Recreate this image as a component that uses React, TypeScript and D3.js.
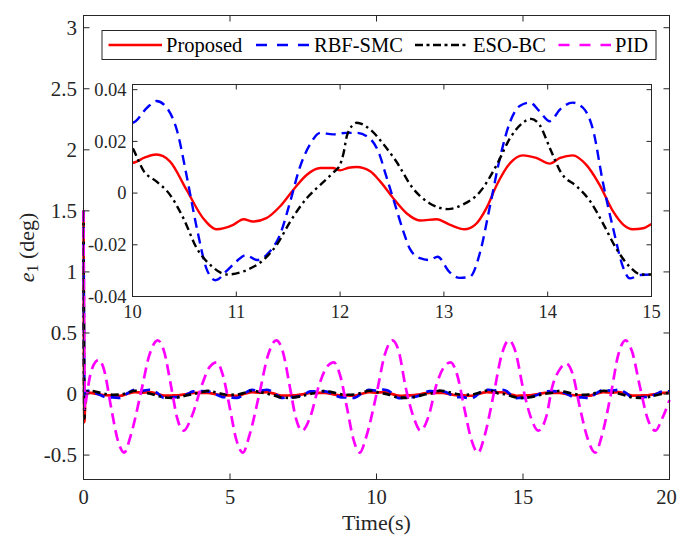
import React from 'react';
import * as d3 from 'd3';

const seriesNames = ['Proposed', 'RBF-SMC', 'ESO-BC', 'PID'];
const seriesColors = ['#ff0000', '#0000ff', '#000000', '#ff00ff'];

const xTicksMain = [0, 5, 10, 15, 20];
const yTicksMain = [-0.5, 0, 0.5, 1, 1.5, 2, 2.5, 3];
const yTickLabelsMain = ['-0.5', '0', '0.5', '1', '1.5', '2', '2.5', '3'];
const xTicksInset = [10, 11, 12, 13, 14, 15];
const yTicksInset = [-0.04, -0.02, 0, 0.02, 0.04];
const yTickLabelsInset = ['-0.04', '-0.02', '0', '0.02', '0.04'];

// sample times for coarse parts of the main plot
const tHead = d3.range(0.25, 10, 0.25); // 0.25 .. 9.75
const tTail = d3.range(15.25, 20.001, 0.25); // 15.25 .. 20

// ---------- Proposed (red) ----------
const redStart: [number, number][] = [[0, 1.5], [0.015, 0.3], [0.03, -0.23], [0.06, -0.04], [0.12, 0.01], [0.18, 0.011]];
const redHead = [0.009, -0.001, -0.010, -0.011, -0.014, 0.002, 0.0145, 0.012, 0.015, 0.003, -0.013, -0.012, -0.010, -0.002, 0.009,
  0.009,
  0.009, -0.001, -0.010, -0.011, -0.014, 0.002, 0.0145, 0.012, 0.015, 0.003, -0.013, -0.012, -0.010, -0.002, 0.009,
  0.009,
  0.009, -0.001, -0.010, -0.011, -0.014, 0.002, 0.0145];
const redZoom: [number, number][] = [[10.0, 0.0117], [10.12, 0.0138], [10.23, 0.0149], [10.36, 0.0123], [10.52, 0.0013], [10.68, -0.0097], [10.81, -0.014], [10.97, -0.0123], [11.07, -0.0101], [11.16, -0.011], [11.29, -0.0097], [11.42, -0.0052], [11.55, 0.0013], [11.68, 0.0071], [11.81, 0.0097], [11.93, 0.0097], [12.0, 0.0088], [12.08, 0.0098], [12.16, 0.0101], [12.29, 0.0084], [12.38, 0.0048], [12.51, -0.0019], [12.64, -0.0078], [12.77, -0.0106], [12.93, -0.0101], [13.06, -0.0123], [13.2, -0.014], [13.3, -0.0123], [13.41, -0.0058], [13.51, 0.0032], [13.64, 0.0117], [13.76, 0.0146], [13.89, 0.0136], [14.02, 0.0114], [14.12, 0.0136], [14.24, 0.0146], [14.37, 0.011], [14.5, 0.0032], [14.63, -0.0071], [14.73, -0.0123], [14.82, -0.014], [14.92, -0.0136], [15.0, -0.012]];
const redTail = [-0.010, -0.002, 0.009, 0.009, 0.009, -0.001, -0.010, -0.011, -0.014, 0.002, 0.0145, 0.012, 0.015, 0.003, -0.013, -0.012, -0.010, -0.002, 0.009, 0.009];

// ---------- RBF-SMC (blue) ----------
const blueStart: [number, number][] = [[0, 1.5], [0.015, 0.5], [0.03, -0.05], [0.07, 0.02], [0.15, 0.025]];
const blueHead = [0.021, 0.000, -0.025, -0.028, -0.032, 0.006, 0.034, 0.027, 0.035, 0.011, -0.032, -0.027, -0.024, -0.006, 0.021,
  0.023,
  0.021, 0.000, -0.025, -0.028, -0.032, 0.006, 0.034, 0.027, 0.035, 0.011, -0.032, -0.027, -0.024, -0.006, 0.021,
  0.023,
  0.021, 0.000, -0.025, -0.028, -0.032, 0.006, 0.034];
const blueZoom: [number, number][] = [[10.0, 0.0272], [10.14, 0.033], [10.23, 0.0356], [10.33, 0.033], [10.43, 0.024], [10.52, 0.007], [10.62, -0.0136], [10.72, -0.030], [10.8, -0.0337], [10.91, -0.030], [11.0, -0.0265], [11.09, -0.024], [11.2, -0.0259], [11.32, -0.0227], [11.42, -0.0162], [11.52, -0.0032], [11.61, 0.0097], [11.71, 0.0188], [11.81, 0.0233], [11.93, 0.0227], [12.06, 0.0233], [12.16, 0.0233], [12.29, 0.021], [12.38, 0.0149], [12.44, 0.0071], [12.51, -0.0019], [12.61, -0.0149], [12.67, -0.0214], [12.77, -0.0252], [12.86, -0.0259], [12.94, -0.0246], [13.05, -0.0304], [13.15, -0.0328], [13.25, -0.0324], [13.35, -0.0227], [13.44, -0.0058], [13.54, 0.0136], [13.64, 0.0278], [13.73, 0.0337], [13.83, 0.035], [13.92, 0.0317], [14.02, 0.0278], [14.12, 0.0324], [14.24, 0.035], [14.34, 0.033], [14.44, 0.024], [14.53, 0.0045], [14.63, -0.0136], [14.73, -0.0291], [14.79, -0.033], [14.89, -0.0317], [15.0, -0.0315]];
const blueTail = [-0.024, -0.006, 0.021, 0.023, 0.021, 0.000, -0.025, -0.028, -0.032, 0.006, 0.034, 0.027, 0.035, 0.011, -0.032, -0.027, -0.024, -0.006, 0.021, 0.023];

// ---------- ESO-BC (black) ----------
const blackStart: [number, number][] = [[0, 1.5], [0.015, 0.3], [0.03, -0.2], [0.06, -0.03], [0.12, 0.02], [0.18, 0.025]];
const blackHead = [0.026, 0.014, 0.000, -0.006, -0.004, 0.010, 0.027, 0.0175, 0.004, -0.011, -0.028, -0.031, -0.026, -0.012, 0.001,
  0.012,
  0.026, 0.014, 0.000, -0.006, -0.004, 0.010, 0.027, 0.0175, 0.004, -0.011, -0.028, -0.031, -0.026, -0.012, 0.001,
  0.012,
  0.026, 0.014, 0.000, -0.006, -0.004, 0.010, 0.027];
const blackZoom: [number, number][] = [[10.0, 0.0175], [10.11, 0.0084], [10.23, 0.0045], [10.36, -0.0006], [10.49, -0.0097], [10.62, -0.0214], [10.75, -0.0278], [10.91, -0.0315], [11.1, -0.0298], [11.26, -0.0259], [11.39, -0.020], [11.52, -0.011], [11.68, -0.0019], [11.81, 0.0032], [11.93, 0.0078], [12.0, 0.011], [12.03, 0.0149], [12.07, 0.0227], [12.16, 0.0272], [12.29, 0.0246], [12.42, 0.0188], [12.54, 0.0123], [12.7, 0.0019], [12.86, -0.0039], [13.04, -0.0062], [13.18, -0.0045], [13.35, 0.0006], [13.51, 0.011], [13.64, 0.0214], [13.76, 0.0272], [13.84, 0.0287], [13.92, 0.0265], [14.02, 0.0175], [14.13, 0.0078], [14.28, 0.0026], [14.41, -0.0032], [14.54, -0.0123], [14.66, -0.0214], [14.79, -0.0285], [14.9, -0.0315], [15.0, -0.0315]];
const blackTail = [-0.026, -0.012, 0.001, 0.012, 0.026, 0.014, 0.000, -0.006, -0.004, 0.010, 0.027, 0.0175, 0.004, -0.011, -0.028, -0.031, -0.026, -0.012, 0.001, 0.012];

// ---------- PID (magenta) ----------
const pidPoints: [number, number][] = [[0, 1.5], [0.02, 0.6], [0.045, -0.12], [0.09, -0.05], [0.2, 0.12], [0.35, 0.24], [0.52, 0.28], [0.7, 0.2], [0.95, -0.12], [1.15, -0.36], [1.39, -0.48], [1.6, -0.35], [1.95, 0.0], [2.25, 0.32], [2.53, 0.44], [2.75, 0.35], [3.0, 0.05], [3.2, -0.2], [3.42, -0.3], [3.7, -0.18], [4.05, 0.08], [4.3, 0.22], [4.55, 0.26], [4.75, 0.16], [5.0, -0.12], [5.2, -0.36], [5.44, -0.48], [5.65, -0.35], [6.0, 0.0], [6.3, 0.32], [6.58, 0.44], [6.8, 0.35], [7.05, 0.05], [7.25, -0.2], [7.46, -0.3], [7.75, -0.18], [8.05, 0.08], [8.3, 0.22], [8.54, 0.26], [8.75, 0.16], [9.0, -0.12], [9.2, -0.36], [9.43, -0.48], [9.65, -0.35], [10.0, 0.0], [10.28, 0.32], [10.54, 0.44], [10.76, 0.35], [11.0, 0.05], [11.28, -0.2], [11.5, -0.3], [11.78, -0.18], [12.05, 0.08], [12.3, 0.22], [12.53, 0.26], [12.75, 0.16], [13.0, -0.12], [13.22, -0.36], [13.47, -0.48], [13.68, -0.35], [14.0, 0.0], [14.27, 0.32], [14.52, 0.44], [14.74, 0.35], [15.0, 0.05], [15.28, -0.2], [15.52, -0.3], [15.8, -0.18], [16.0, 0.06], [16.25, 0.2], [16.47, 0.25], [16.7, 0.16], [16.95, -0.12], [17.2, -0.36], [17.47, -0.48], [17.68, -0.35], [18.0, 0.0], [18.25, 0.32], [18.5, 0.44], [18.72, 0.35], [19.0, 0.05], [19.25, -0.2], [19.52, -0.3], [19.75, -0.2], [20.0, -0.05]];

function assemble(start: [number, number][], head: number[], zoom: [number, number][], tail: number[]): [number, number][] {
  return [
    ...start,
    ...tHead.map((t, i) => [t, head[i]] as [number, number]),
    ...zoom,
    ...tTail.map((t, i) => [t, tail[i]] as [number, number]),
  ];
}

const redData = assemble(redStart, redHead, redZoom, redTail);
const blueData = assemble(blueStart, blueHead, blueZoom, blueTail);
const blackData = assemble(blackStart, blackHead, blackZoom, blackTail);
const allSeries = [redData, blueData, blackData, pidPoints];

const W = 678;
const H = 538;
const AX = '#262626';
const FONT = '"Liberation Serif", "Times New Roman", serif';
const dashes = [null, '10,6', '8,4,2.5,4', '11,6'];
const legendDashes = [null, '11,10', '8,3.5,3,3.5', '11,10'];

export default function App() {
  // main axes
  const mL = 83.5, mR = 669.5, mT = 15.5, mB = 479.5;
  const x = d3.scaleLinear().domain([0, 20]).range([mL, mR]);
  const y = d3.scaleLinear().domain([-0.7, 3.1]).range([mB, mT]);
  // inset axes
  const iL = 132.5, iR = 651.5, iT = 84.5, iB = 296.5;
  const xi = d3.scaleLinear().domain([10, 15]).range([iL, iR]);
  const yi = d3.scaleLinear().domain([-0.04, 0.042]).range([iB, iT]);

  const lineMain = d3.line<[number, number]>().x(d => x(d[0])).y(d => y(d[1])).curve(d3.curveMonotoneX);
  const lineInset = d3.line<[number, number]>().x(d => xi(d[0])).y(d => yi(d[1])).curve(d3.curveMonotoneX);

  const tick = 6;
  const itick = 5;

  const legendItems = [
    { x0: 108.5, x1: 162, tx: 166 },
    { x0: 256, x1: 310, tx: 314 },
    { x0: 415, x1: 469, tx: 473 },
    { x0: 558.5, x1: 611, tx: 615 },
  ];

  return (
    <svg width={W} height={H} style={{ position: 'absolute', left: 0, top: 0, background: '#fff' }} fontFamily={FONT}>
      <rect x={0} y={0} width={W} height={H} fill="#fff" />
      <defs>
        <clipPath id="insetClip">
          <rect x={iL} y={iT} width={iR - iL} height={iB - iT} />
        </clipPath>
      </defs>

      {/* main series */}
      <g fill="none">
        {allSeries.map((d, i) => (
          <path key={i} d={lineMain(d) || ''} stroke={seriesColors[i]} strokeWidth={2.7}
            strokeDasharray={dashes[i] || undefined} strokeLinejoin="round" />
        ))}
      </g>

      {/* main axes box */}
      <rect x={mL} y={mT} width={mR - mL} height={mB - mT} fill="none" stroke={AX} strokeWidth={1} />
      {xTicksMain.map(t => (
        <g key={'mx' + t}>
          <line x1={x(t)} x2={x(t)} y1={mB} y2={mB - tick} stroke={AX} />
          <line x1={x(t)} x2={x(t)} y1={mT} y2={mT + tick} stroke={AX} />
          <text x={Math.min(x(t), 666.5)} y={504} textAnchor="middle" fontSize={20.5} fill={AX}>{t}</text>
        </g>
      ))}
      {yTicksMain.map((t, i) => (
        <g key={'my' + t}>
          <line x1={mL} x2={mL + tick} y1={y(t)} y2={y(t)} stroke={AX} />
          <line x1={mR} x2={mR - tick} y1={y(t)} y2={y(t)} stroke={AX} />
          <text x={77} y={y(t)} dy="0.34em" textAnchor="end" fontSize={21} fill={AX}>{yTickLabelsMain[i]}</text>
        </g>
      ))}
      <text x={(mL + mR) / 2} y={530} textAnchor="middle" fontSize={22} fill={AX}>Time(s)</text>
      <text transform={`translate(34,${(mT + mB) / 2}) rotate(-90)`} textAnchor="middle" fontSize={22} fill={AX}>
        <tspan fontStyle="italic">e</tspan>
        <tspan fontSize={16} dy={4}>1</tspan>
        <tspan dy={-4}> (deg)</tspan>
      </text>

      {/* legend */}
      <rect x={102} y={30.5} width={554} height={29} fill="#fff" stroke={AX} strokeWidth={1} />
      {legendItems.map((it, i) => (
        <g key={'lg' + i}>
          <line x1={it.x0} x2={it.x1} y1={45} y2={45} stroke={seriesColors[i]} strokeWidth={2.6}
            strokeDasharray={legendDashes[i] || undefined} />
          <text x={it.tx} y={52} fontSize={20.5} fill="#000">{seriesNames[i]}</text>
        </g>
      ))}

      {/* inset */}
      <rect x={iL} y={iT} width={iR - iL} height={iB - iT} fill="#fff" />
      <g fill="none" clipPath="url(#insetClip)">
        {allSeries.slice(0, 3).map((d, i) => (
          <path key={i} d={lineInset(d.filter(p => p[0] >= 9.7 && p[0] <= 15.3)) || ''} stroke={seriesColors[i]} strokeWidth={2.4}
            strokeDasharray={dashes[i] || undefined} strokeLinejoin="round" />
        ))}
      </g>
      <rect x={iL} y={iT} width={iR - iL} height={iB - iT} fill="none" stroke={AX} strokeWidth={1} />
      {xTicksInset.map(t => (
        <g key={'ix' + t}>
          <line x1={xi(t)} x2={xi(t)} y1={iB} y2={iB - itick} stroke={AX} />
          <line x1={xi(t)} x2={xi(t)} y1={iT} y2={iT + itick} stroke={AX} />
          <text x={xi(t)} y={318} textAnchor="middle" fontSize={18.5} fill={AX}>{t}</text>
        </g>
      ))}
      {yTicksInset.map((t, i) => (
        <g key={'iy' + t}>
          <line x1={iL} x2={iL + itick} y1={yi(t)} y2={yi(t)} stroke={AX} />
          <line x1={iR} x2={iR - itick} y1={yi(t)} y2={yi(t)} stroke={AX} />
          <text x={126.5} y={yi(t)} dy="0.34em" textAnchor="end" fontSize={18.5} fill={AX}>{yTickLabelsInset[i]}</text>
        </g>
      ))}
    </svg>
  );
}
